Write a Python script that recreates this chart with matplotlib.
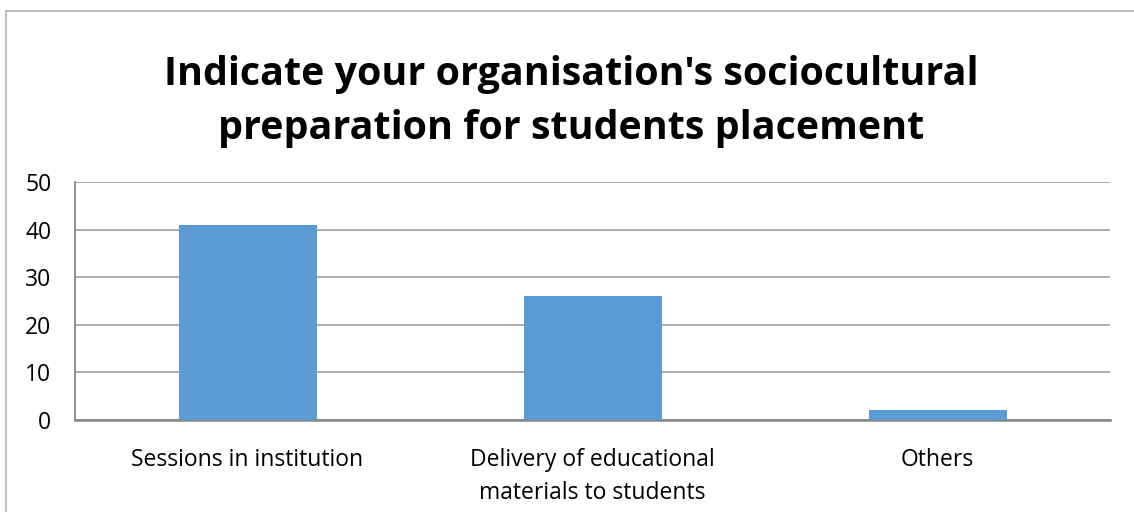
import matplotlib
matplotlib.use("Agg")
import matplotlib.pyplot as plt
from matplotlib.patches import Rectangle

categories = ["Sessions in institution", "Delivery of educational\nmaterials to students", "Others"]
counts = [41, 26, 2]
y_ticks = [0, 10, 20, 30, 40, 50]

plt.rcParams["font.family"] = ["Open Sans", "DejaVu Sans"]

fig = plt.figure(figsize=(11.34, 5.12), dpi=100)
ax = fig.add_axes([75 / 1134, 1 - 420 / 512, 1035 / 1134, 238 / 512])

x = range(len(categories))
ax.bar(x, counts, width=0.4, color="#5b9bd5", zorder=3)
ax.set_xlim(-0.5, 2.5)
ax.set_ylim(0, 50)
ax.set_yticks(y_ticks)
ax.set_xticks(list(x))
ax.set_xticklabels(categories, linespacing=1.5)
ax.tick_params(axis="both", length=0, labelsize=16.5, colors="black")
ax.tick_params(axis="y", pad=17)
ax.tick_params(axis="x", pad=20)
for lbl in ax.get_yticklabels():
    lbl.set_horizontalalignment("right")
ax.yaxis.grid(True, color="#a6a6a6", lw=1.3, zorder=0)
for s in ["top", "right"]:
    ax.spines[s].set_visible(False)
ax.spines["left"].set_color("#868686")
ax.spines["bottom"].set_color("#868686")
ax.spines["left"].set_linewidth(1.3)
ax.spines["bottom"].set_linewidth(1.8)

fig.text(0.5035, 1 - 101.5 / 512, "Indicate your organisation's sociocultural\npreparation for students placement",
         ha="center", va="center", fontsize=28.4, fontweight="bold", linespacing=1.47)

# chart frame
fig.patches.append(Rectangle((6 / 1134, -0.1), 1.2, 1 - 11 / 512 + 0.1, transform=fig.transFigure,
                             fill=False, edgecolor="#b0b0b0", lw=1.2))

fig.savefig("out.png", dpi=100)
